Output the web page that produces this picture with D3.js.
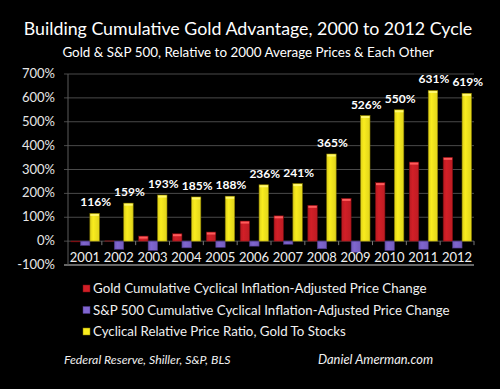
<!DOCTYPE html>
<html>
<head>
<meta charset="utf-8">
<script src="https://cdn.jsdelivr.net/npm/d3@7"></script>
<style>
  body { margin: 0; background: #000; }
  svg { display: block; font-family: Lato, "Open Sans", sans-serif; }
</style>
</head>
<body>
<div class="chart"></div>
<script>
var years = ["2001", "2002", "2003", "2004", "2005", "2006", "2007", "2008", "2009", "2010", "2011", "2012"];
var goldChange = [-3, 1, 21, 31, 38, 84, 106, 150, 179, 245, 331, 351];
var spChange = [-18, -34, -39, -28, -26, -21, -13, -32, -47, -39, -34, -29];
var ratio = [116, 159, 193, 185, 188, 236, 241, 365, 526, 550, 631, 619];
var yTicks = [-100, 0, 100, 200, 300, 400, 500, 600, 700];
var seriesNames = [
  "Gold Cumulative Cyclical Inflation-Adjusted Price Change",
  "S&P 500 Cumulative Cyclical Inflation-Adjusted Price Change",
  "Cyclical Relative Price Ratio, Gold To Stocks"
];

var width = 500;
var height = 389;
var colors = ["#d21f27", "#8066d0", "#f9ec1e"];
var light = ["#ff5c5c", "#a994f2", "#fff870"];
var edge = ["#7a0c10", "#4a3585", "#8a7d00"];

var plotLeft = 68, plotRight = 474, plotTop = 74, plotBottom = 265;

var svg = d3
  .select(".chart")
  .append("svg")
  .attr("width", width)
  .attr("height", height)
  .style("background", "#000");

// gradients for the bar shading
var defs = svg.append("defs");
colors.forEach(function(c, i) {
  var g = defs.append("linearGradient").attr("id", "g" + i).attr("x1", 0).attr("x2", 1).attr("y1", 0).attr("y2", 0);
  g.append("stop").attr("offset", "0%").attr("stop-color", d3.color(c).darker(0.35));
  g.append("stop").attr("offset", "35%").attr("stop-color", c);
  g.append("stop").attr("offset", "100%").attr("stop-color", d3.color(c).darker(0.3));
});

var yScale = d3.scaleLinear().domain([-100, 700]).range([plotBottom, plotTop]);
var xScale = d3.scaleBand().domain(years).range([plotLeft, plotRight]).padding(0);
var subScale = d3
  .scaleBand()
  .domain([0, 1, 2])
  .range([3, xScale.bandwidth() - 2.5])
  .padding(0);

// title
svg.append("text")
  .attr("x", 248).attr("y", 35)
  .attr("text-anchor", "middle")
  .attr("fill", "#fff")
  .style("font-size", "17.8px")
  .text("Building Cumulative Gold Advantage, 2000 to 2012 Cycle");
svg.append("text")
  .attr("x", 248).attr("y", 57)
  .attr("text-anchor", "middle")
  .attr("fill", "#fff")
  .style("font-size", "13.4px")
  .text("Gold & S&P 500, Relative to 2000 Average Prices & Each Other");

// gridlines
svg.append("g")
  .selectAll("line")
  .data(yTicks)
  .enter()
  .append("line")
  .attr("x1", plotLeft - 4)
  .attr("x2", plotRight)
  .attr("y1", function(d) { return yScale(d); })
  .attr("y2", function(d) { return yScale(d); })
  .attr("stroke", function(d) { return d === -100 ? "#8a8a8a" : "#4a4a4a"; })
  .attr("stroke-width", function(d) { return d === -100 ? 1.5 : 1; });

svg.append("line")
  .attr("x1", plotLeft).attr("x2", plotLeft)
  .attr("y1", plotTop).attr("y2", plotBottom)
  .attr("stroke", "#5a5a5a");

// y labels
svg.append("g")
  .selectAll("text")
  .data(yTicks)
  .enter()
  .append("text")
  .attr("x", 55)
  .attr("y", function(d) { return yScale(d) + 4; })
  .attr("text-anchor", "end")
  .attr("fill", "#e6e6e6")
  .style("font-size", "13px")
  .text(function(d) { return d + "%"; });

// tick marks on zero line between years
svg.append("g")
  .selectAll("line")
  .data(years)
  .enter()
  .append("line")
  .attr("x1", function(d) { return xScale(d) + xScale.bandwidth(); })
  .attr("x2", function(d) { return xScale(d) + xScale.bandwidth(); })
  .attr("y1", yScale(0))
  .attr("y2", yScale(0) + 4)
  .attr("stroke", "#777");

var groups = svg.append("g")
  .selectAll("g")
  .data(years)
  .enter()
  .append("g")
  .attr("transform", function(d) { return "translate(" + xScale(d) + ",0)"; });

var seriesData = [goldChange, spChange, ratio];
groups.each(function(year, i) {
  var g = d3.select(this);
  seriesData.forEach(function(vals, s) {
    var v = vals[i];
    var y0 = yScale(Math.max(0, v));
    var h = Math.abs(yScale(v) - yScale(0));
    g.append("rect")
      .attr("x", subScale(s))
      .attr("y", y0)
      .attr("width", subScale.bandwidth())
      .attr("height", h)
      .attr("fill", "url(#g" + s + ")")
      .attr("stroke", edge[s])
      .attr("stroke-width", 0.6);
    if (v > 0 && h > 3) {
      g.append("rect")
        .attr("x", subScale(s) + 0.5)
        .attr("y", y0 + 0.5)
        .attr("width", subScale.bandwidth() - 1)
        .attr("height", 2)
        .attr("fill", light[s]);
    }
  });
});

// ratio labels
svg.append("g")
  .selectAll("text")
  .data(ratio)
  .enter()
  .append("text")
  .attr("x", function(d, i) { return xScale(years[i]) + subScale(2) + subScale.bandwidth() / 2 + 1; })
  .attr("y", function(d) { return yScale(d) - 7; })
  .attr("text-anchor", "middle")
  .attr("fill", "#fff")
  .style("font-size", "12px")
  .style("font-weight", "bold")
  .text(function(d) { return d + "%"; });

// year labels
svg.append("g")
  .selectAll("text")
  .data(years)
  .enter()
  .append("text")
  .attr("x", function(d) { return xScale(d) + xScale.bandwidth() / 2; })
  .attr("y", 262)
  .attr("text-anchor", "middle")
  .attr("fill", "#f0f0f0")
  .style("font-size", "13px")
  .text(function(d) { return d; });

// legend
var legend = svg.append("g")
  .selectAll("g")
  .data(seriesNames)
  .enter()
  .append("g")
  .attr("transform", function(d, i) { return "translate(83," + (293 + i * 21.5) + ")"; });
legend.append("rect")
  .attr("x", 0).attr("y", -8)
  .attr("width", 7).attr("height", 7)
  .attr("fill", function(d, i) { return colors[i]; })
  .attr("stroke", function(d, i) { return edge[i]; })
  .attr("stroke-width", 0.5);
legend.append("text")
  .attr("x", 10).attr("y", 0)
  .attr("fill", "#f0f0f0")
  .style("font-size", "13.3px")
  .text(function(d) { return d; });

// sources
svg.append("text")
  .attr("x", 64).attr("y", 364)
  .attr("fill", "#f0f0f0")
  .style("font-size", "12.3px")
  .style("font-style", "italic")
  .text("Federal Reserve, Shiller, S&P, BLS");
svg.append("text")
  .attr("x", 318).attr("y", 364)
  .attr("fill", "#f0f0f0")
  .style("font-size", "12.9px")
  .style("font-style", "italic")
  .text("Daniel Amerman.com");
</script>
</body>
</html>
